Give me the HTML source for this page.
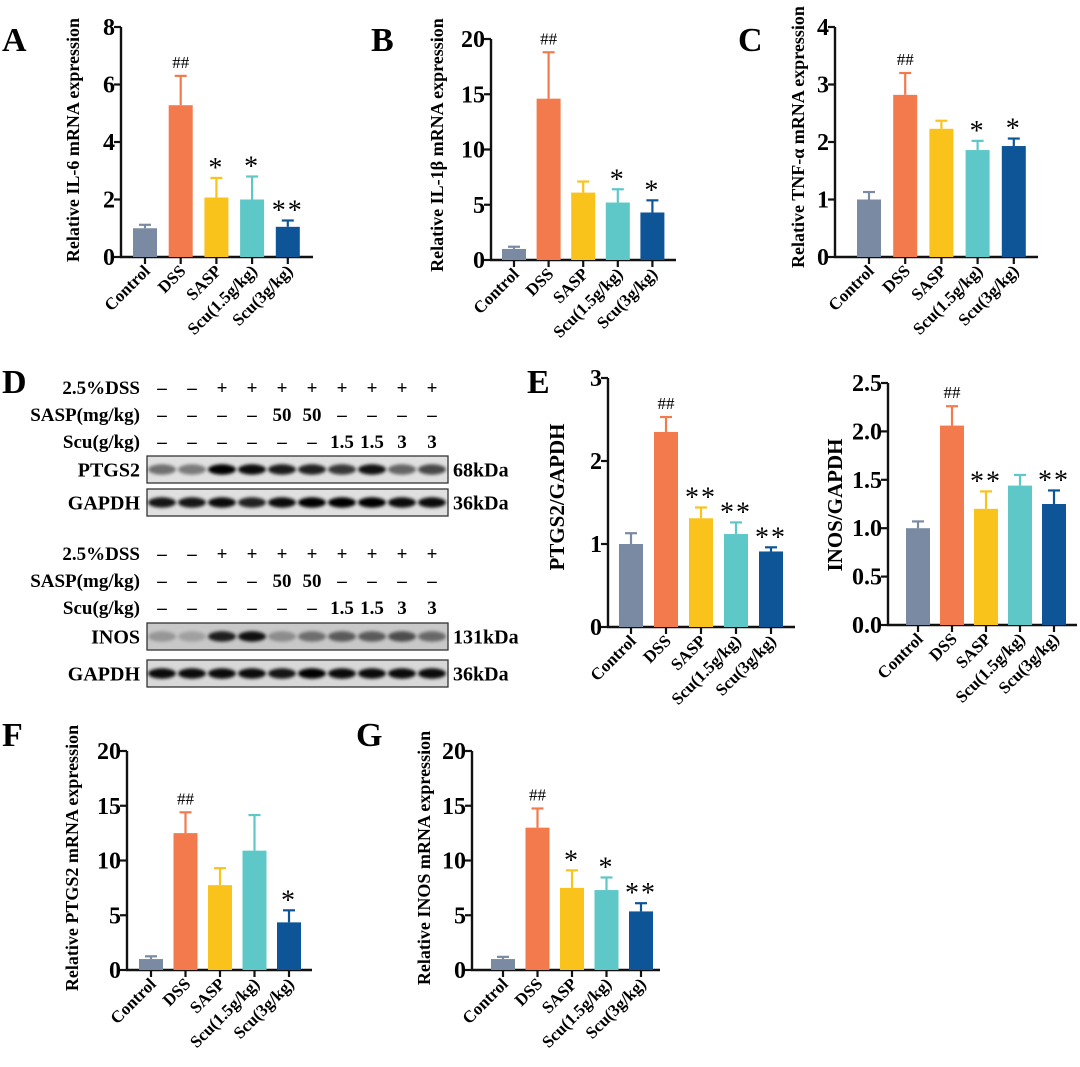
<!DOCTYPE html>
<html><head><meta charset="utf-8"><style>
html,body{margin:0;padding:0;background:#fff;}
svg{display:block;font-family:"Liberation Serif",serif;}
</style></head><body>
<svg id="fig" width="1080" height="1067" viewBox="0 0 1080 1067" xmlns="http://www.w3.org/2000/svg">
<defs><filter id="blur" x="-20%" y="-50%" width="140%" height="200%"><feGaussianBlur stdDeviation="1.5"/></filter></defs>
<g font-weight="bold" font-size="34" fill="#000">
<text x="2" y="51">A</text>
<text x="371" y="51">B</text>
<text x="738" y="51">C</text>
<text x="2" y="393">D</text>
<text x="527" y="393">E</text>
<text x="2" y="746">F</text>
<text x="356" y="746">G</text>
</g>
<g id="blots"></g>
<g id="charts"></g>
</svg>
<script>
const NS = "http://www.w3.org/2000/svg";
const categories = ["Control","DSS","SASP","Scu(1.5g/kg)","Scu(3g/kg)"];
const colors = ["#7a8aa2","#f27a4c","#fac31b","#5ec7c7","#0e5598"];

const il6Values = [1.0, 5.28, 2.07, 2.0, 1.05];
const il6Errors = [0.12, 1.02, 0.68, 0.8, 0.22];
const il6Marks = ["", "##", "*", "*", "**"];
const il6Ticks = [0, 2, 4, 6, 8];
const il6TickLabels = ["0","2","4","6","8"];

const il1bValues = [1.0, 14.6, 6.1, 5.2, 4.3];
const il1bErrors = [0.2, 4.2, 1.0, 1.2, 1.1];
const il1bMarks = ["", "##", "", "*", "*"];
const il1bTicks = [0, 5, 10, 15, 20];
const il1bTickLabels = ["0","5","10","15","20"];

const tnfValues = [1.0, 2.82, 2.23, 1.86, 1.93];
const tnfErrors = [0.13, 0.38, 0.14, 0.16, 0.13];
const tnfMarks = ["", "##", "", "*", "*"];
const tnfTicks = [0, 1, 2, 3, 4];
const tnfTickLabels = ["0","1","2","3","4"];

const ptgs2ProtValues = [1.0, 2.35, 1.31, 1.12, 0.91];
const ptgs2ProtErrors = [0.13, 0.18, 0.13, 0.14, 0.05];
const ptgs2ProtMarks = ["", "##", "**", "**", "**"];
const ptgs2ProtTicks = [0, 1, 2, 3];
const ptgs2ProtTickLabels = ["0","1","2","3"];

const inosProtValues = [1.0, 2.06, 1.2, 1.44, 1.25];
const inosProtErrors = [0.07, 0.2, 0.18, 0.11, 0.14];
const inosProtMarks = ["", "##", "**", "", "**"];
const inosProtTicks = [0, 0.5, 1.0, 1.5, 2.0, 2.5];
const inosProtTickLabels = ["0.0","0.5","1.0","1.5","2.0","2.5"];

const ptgs2MrnaValues = [1.0, 12.5, 7.75, 10.9, 4.35];
const ptgs2MrnaErrors = [0.25, 1.9, 1.55, 3.25, 1.1];
const ptgs2MrnaMarks = ["", "##", "", "", "*"];
const ptgs2MrnaTicks = [0, 5, 10, 15, 20];
const ptgs2MrnaTickLabels = ["0","5","10","15","20"];

const inosMrnaValues = [1.0, 13.0, 7.5, 7.3, 5.35];
const inosMrnaErrors = [0.2, 1.75, 1.6, 1.15, 0.75];
const inosMrnaMarks = ["", "##", "*", "*", "**"];
const inosMrnaTicks = [0, 5, 10, 15, 20];
const inosMrnaTickLabels = ["0","5","10","15","20"];

const blotLanes = [1,2,3,4,5,6,7,8,9,10];
const dssRow = ["\u2013","\u2013","+","+","+","+","+","+","+","+"];
const saspRow = ["\u2013","\u2013","\u2013","\u2013","50","50","\u2013","\u2013","\u2013","\u2013"];
const scuRow = ["\u2013","\u2013","\u2013","\u2013","\u2013","\u2013","1.5","1.5","3","3"];
const ptgs2Bands = [0.5,0.45,1.0,0.95,0.88,0.85,0.75,0.92,0.55,0.68];
const gapdh1Bands = [0.9,0.9,0.95,0.85,0.95,1.0,1.0,1.0,0.95,0.95];
const inosBands = [0.25,0.2,0.85,0.92,0.3,0.45,0.55,0.55,0.62,0.48];
const gapdh2Bands = [0.95,0.95,0.95,0.95,0.9,1.0,0.95,0.95,0.95,0.95];

function mk(tag, attrs, parent, txt){
  const e = document.createElementNS(NS, tag);
  for (const k in attrs) e.setAttribute(k, attrs[k]);
  if (txt !== undefined) e.textContent = txt;
  parent.appendChild(e);
  return e;
}

const charts = document.getElementById("charts");
function drawChart(id, title, values, errors, marks, ticks, tickLabels, L){
  const g = mk("g", {}, charts);
  
  
  const tMin = ticks[0], tMax = ticks[ticks.length-1];
  const y = v => L.y0 - (v - tMin) / (tMax - tMin) * (L.y0 - L.yTop);
  const x = i => L.ax + L.off + i * L.step;
  const bw = 24;
  const ya = mk("line", {x1:L.ax, y1:L.yTop, x2:L.ax, y2:L.y0+1, stroke:"#111", "stroke-width":2.4}, g);
  
  
  const xa = mk("line", {x1:L.ax-1, y1:L.y0, x2:L.end, y2:L.y0, stroke:"#111", "stroke-width":2.4}, g);
  
  
  ticks.forEach((t, k) => {
    mk("line", {x1:L.ax-7, y1:y(t), x2:L.ax, y2:y(t), stroke:"#111", "stroke-width":2.2}, g);
    const tl = mk("text", {x:L.ax-6, y:y(t)+8, "text-anchor":"end", "font-size":24, "font-weight":"bold"}, g, tickLabels[k]);
    
    
  });
  const tt = mk("text", {x:0, y:0, "text-anchor":"middle", "font-size":L.tf || 18, "font-weight":"bold",
    transform:"translate(" + L.tx + "," + L.ty + ") rotate(-90)"}, g, title);
  
  
  values.forEach((v, i) => {
    const cx = x(i);
    const top = v + errors[i];
    mk("line", {x1:cx, y1:y(v), x2:cx, y2:y(top), stroke:colors[i], "stroke-width":2.2}, g);
    mk("line", {x1:cx-6, y1:y(top), x2:cx+6, y2:y(top), stroke:colors[i], "stroke-width":2.2}, g);
    const b = mk("rect", {x:cx-bw/2, y:y(v), width:bw, height:L.y0 - y(v), fill:colors[i]}, g);
    
    
    mk("line", {x1:cx, y1:L.y0, x2:cx, y2:L.y0+7, stroke:"#111", "stroke-width":2.2}, g);
    if (marks[i]) {
      const isHash = marks[i] === "##";
      const m = mk("text", {x:cx, y:y(top) - (isHash ? 8 : 0), "text-anchor":"middle",
        "font-size": isHash ? 17 : 28, "letter-spacing": isHash ? 0 : 2}, g, marks[i]);
      if (!isHash) m.setAttribute("dy", "-1");
      
      
    }
    const xl = mk("text", {x:0, y:0, "text-anchor":"end", "font-size":17, "font-weight":"bold",
      transform:"translate(" + (cx+6) + "," + (L.y0+15) + ") rotate(-45)"}, g, categories[i]);
    
    
  });
}

drawChart("il6", "Relative IL-6 mRNA expression", il6Values, il6Errors, il6Marks, il6Ticks, il6TickLabels,
  {ax:121, end:313, yTop:27, y0:257, off:24, step:35.7, tx:79, ty:140});
drawChart("il1b", "Relative IL-1\u03b2 mRNA expression", il1bValues, il1bErrors, il1bMarks, il1bTicks, il1bTickLabels,
  {ax:491, end:676, yTop:39, y0:260, off:23, step:34.6, tx:443, ty:145});
drawChart("tnf", "Relative TNF-\u03b1 mRNA expression", tnfValues, tnfErrors, tnfMarks, tnfTicks, tnfTickLabels,
  {ax:835, end:1038, yTop:27, y0:257, off:34, step:36.2, tx:804, ty:137});
drawChart("ptgs2-protein", "PTGS2/GAPDH", ptgs2ProtValues, ptgs2ProtErrors, ptgs2ProtMarks, ptgs2ProtTicks, ptgs2ProtTickLabels,
  {ax:608, end:795, yTop:378, y0:627, off:23, step:35, tx:564, ty:497, tf:21});
drawChart("inos-protein", "INOS/GAPDH", inosProtValues, inosProtErrors, inosProtMarks, inosProtTicks, inosProtTickLabels,
  {ax:888, end:1077, yTop:383, y0:625, off:30, step:34, tx:842, ty:505, tf:21});
drawChart("ptgs2-mrna", "Relative PTGS2 mRNA expression", ptgs2MrnaValues, ptgs2MrnaErrors, ptgs2MrnaMarks, ptgs2MrnaTicks, ptgs2MrnaTickLabels,
  {ax:127, end:312, yTop:751, y0:970, off:24, step:34.5, tx:78, ty:858});
drawChart("inos-mrna", "Relative INOS mRNA expression", inosMrnaValues, inosMrnaErrors, inosMrnaMarks, inosMrnaTicks, inosMrnaTickLabels,
  {ax:472, end:660, yTop:751, y0:970, off:31, step:34.5, tx:430, ty:858});

const blots = document.getElementById("blots");
const laneX = i => 162 + i * 30;
function condRows(y0){
  const labels = ["2.5%DSS","SASP(mg/kg)","Scu(g/kg)"];
  const rows = [dssRow, saspRow, scuRow];
  rows.forEach((row, r) => {
    const yy = y0 + r * 27;
    const lt = mk("text", {x:140, y:yy, "text-anchor":"end", "font-size":19, "font-weight":"bold"}, blots, labels[r]);
    
    
    row.forEach((s, i) => {
      const c = mk("text", {x:laneX(i), y:yy, "text-anchor":"middle", "font-size":19, "font-weight":"bold"}, blots, s);
      
      
    });
  });
}
function blot(name, yTop, h, bands, bg, kda){
  const r = mk("rect", {x:147, y:yTop, width:301, height:h, fill:bg, stroke:"#333", "stroke-width":1.3}, blots);
  
  
  blotLanes.forEach((ln, i) => {
    mk("ellipse", {cx:laneX(i), cy:yTop + h/2, rx:14, ry:5.2, fill:"#000", "fill-opacity":bands[i], filter:"url(#blur)"}, blots);
  });
  const l = mk("text", {x:140, y:yTop + h/2 + 7, "text-anchor":"end", "font-size":20, "font-weight":"bold"}, blots, name);
  
  
  const k = mk("text", {x:453, y:yTop + h/2 + 7, "font-size":20, "font-weight":"bold"}, blots, kda);
  
  
}
condRows(394);
blot("PTGS2", 456, 27, ptgs2Bands, "#e0e0e0", "68kDa");
blot("GAPDH", 489, 27, gapdh1Bands, "#e0e0e0", "36kDa");
condRows(560);
blot("INOS", 623, 27, inosBands, "#c8c8c8", "131kDa");
blot("GAPDH", 660, 27, gapdh2Bands, "#d8d8d8", "36kDa");
</script>
</body></html>
